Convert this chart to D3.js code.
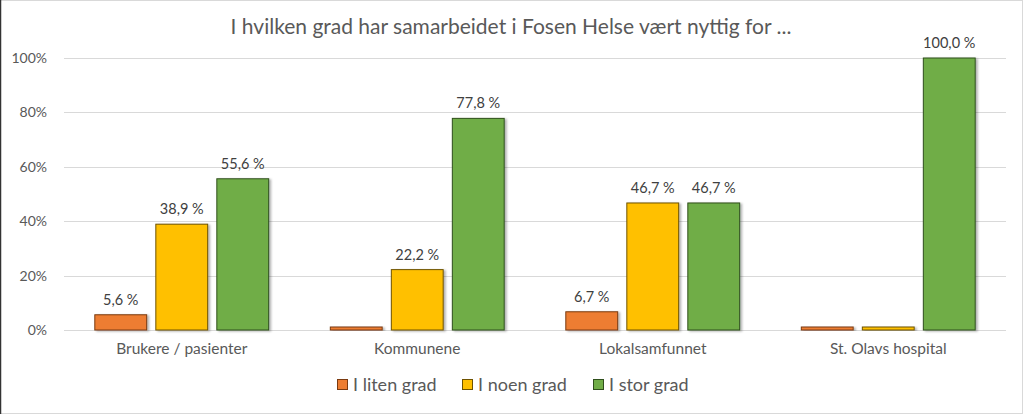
<!DOCTYPE html>
<html><head><meta charset="utf-8">
<script src="https://cdn.jsdelivr.net/npm/d3@7"></script>
<style>body{margin:0;background:#fff}svg{display:block}</style>
</head><body>
<script>
const title = "I hvilken grad har samarbeidet i Fosen Helse vært nyttig for ...";
const categories = ["Brukere / pasienter", "Kommunene", "Lokalsamfunnet", "St. Olavs hospital"];
const seriesNames = ["I liten grad", "I noen grad", "I stor grad"];
const litenGrad = [5.6, 0, 6.7, 0];
const noenGrad = [38.9, 22.2, 46.7, 0];
const storGrad = [55.6, 77.8, 46.7, 100];
const yTicks = [0, 20, 40, 60, 80, 100];

const series = [litenGrad, noenGrad, storGrad];
const fills = ["#ED7D31", "#FFC000", "#70AD47"];
const strokes = ["#7a3a10", "#6e5200", "#2f4f1c"];

const W = 1023, H = 414;
const font = "Lato, 'Open Sans', sans-serif";
const svg = d3.select("body").append("svg").attr("width", W).attr("height", H);

svg.append("rect").attr("x", 0.5).attr("y", 0.5).attr("width", W - 1).attr("height", H - 1)
  .attr("fill", "#fff").attr("stroke", "#d9d9d9");
svg.append("line").attr("x1", 0.5).attr("x2", 0.5).attr("y1", 0).attr("y2", H).attr("stroke", "#333").attr("stroke-width", 1.5);

const x0 = d3.scaleBand().domain(categories).range([64, 1006]);
const y = d3.scaleLinear().domain([0, 100]).range([330, 58]);
const x1 = d3.scaleBand().domain(d3.range(3)).range([0, x0.bandwidth()]).paddingInner(0.15).paddingOuter(0.505);

// gridlines
svg.append("g").selectAll("line").data(yTicks).join("line")
  .attr("x1", 64).attr("x2", 1006)
  .attr("y1", d => Math.round(y(d)) + 0.5).attr("y2", d => Math.round(y(d)) + 0.5)
  .attr("stroke", "#d9d9d9").attr("stroke-width", 1);

// y axis labels
const yAxis = d3.axisLeft(y).tickValues(yTicks).tickFormat(d => d + "%").tickSize(0).tickPadding(0);
const ya = svg.append("g").attr("transform", "translate(47,0)").call(yAxis);
ya.select(".domain").remove();
ya.selectAll("text").attr("font-family", font).attr("font-size", 14).attr("fill", "#595959");

// x axis labels
const xAxis = d3.axisBottom(x0).tickSize(0).tickPadding(0);
const xa = svg.append("g").attr("transform", "translate(0,343)").call(xAxis);
xa.select(".domain").remove();
xa.selectAll("text").attr("font-family", font).attr("font-size", 15.5).attr("fill", "#595959");

// shadow filter
const defs = svg.append("defs");
const f = defs.append("filter").attr("id", "sh").attr("x", "-20%").attr("y", "-20%").attr("width", "150%").attr("height", "150%");
f.append("feDropShadow").attr("dx", 2).attr("dy", 1).attr("stdDeviation", 1.2).attr("flood-color", "#000").attr("flood-opacity", 0.3);

const fmt = v => d3.format(".1f")(v).replace(".", ",") + " %";

series.forEach((vals, si) => {
  const g = svg.append("g");
  g.selectAll("rect").data(categories).join("rect")
    .attr("x", c => x0(c) + x1(si))
    .attr("width", x1.bandwidth())
    .attr("y", (c, i) => Math.min(y(vals[i]), y(0) - 3))
    .attr("height", (c, i) => Math.max(y(0) - y(vals[i]), 3))
    .attr("fill", fills[si]).attr("stroke", strokes[si]).attr("stroke-width", 1)
    .attr("filter", "url(#sh)");
  g.selectAll("text").data(categories.filter((c, i) => vals[i] > 0)).join("text")
    .attr("x", c => x0(c) + x1(si) + x1.bandwidth() / 2)
    .attr("y", c => y(vals[categories.indexOf(c)]) - 10)
    .attr("text-anchor", "middle")
    .attr("font-family", font).attr("font-size", 14.5).attr("fill", "#404040")
    .text(c => fmt(vals[categories.indexOf(c)]));
});

// title
svg.append("text").attr("x", 511).attr("y", 34).attr("text-anchor", "middle")
  .attr("font-family", font).attr("font-size", 21).attr("fill", "#595959").text(title);

// legend
const legX = [337, 462, 593];
const lg = svg.append("g");
seriesNames.forEach((n, i) => {
  lg.append("rect").attr("x", legX[i] + 0.5).attr("y", 379.5).attr("width", 10).attr("height", 10)
    .attr("fill", fills[i]).attr("stroke", strokes[i]);
  lg.append("text").attr("x", legX[i] + 16).attr("y", 391)
    .attr("font-family", font).attr("font-size", 18).attr("fill", "#595959").text(n);
});
</script>
</body></html>
